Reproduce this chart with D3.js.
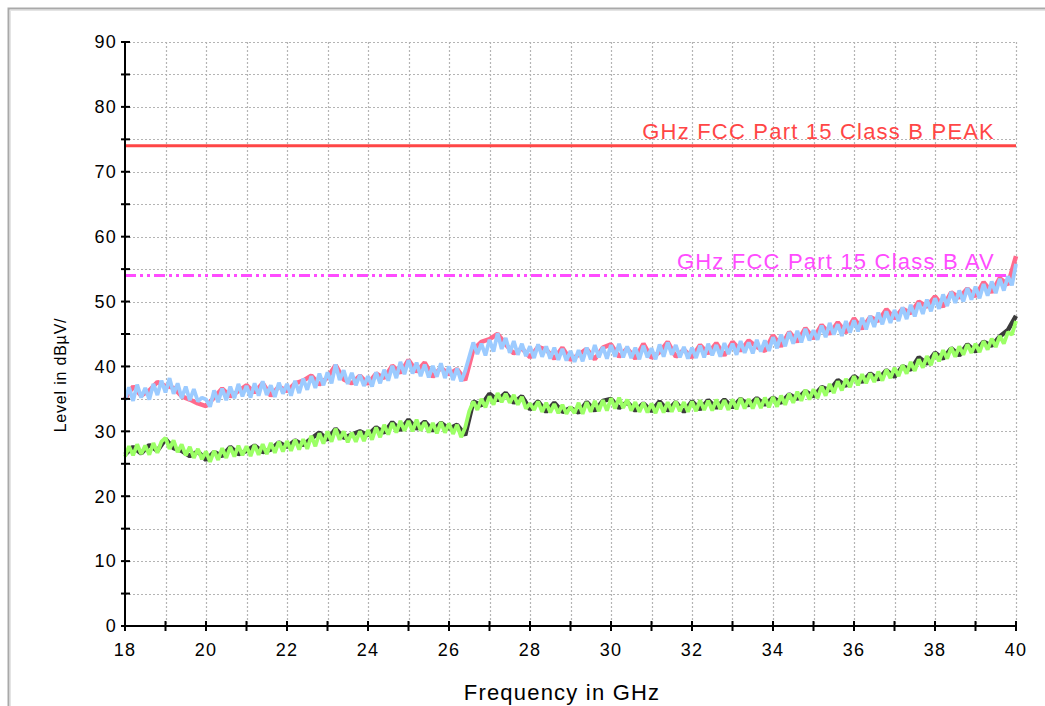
<!DOCTYPE html>
<html>
<head>
<meta charset="utf-8">
<script src="https://cdn.jsdelivr.net/npm/d3@7"></script>
<style>
  html, body { margin: 0; padding: 0; background: #fff; }
  svg { display: block; }
  text { font-family: "Liberation Sans", Arial, sans-serif; }
</style>
</head>
<body>
<svg id="chart" width="1045" height="706"></svg>
<script>
// Sweep: 18–40 GHz
const fStart = 18, fStop = 40;
const xTicks = [18, 20, 22, 24, 26, 28, 30, 32, 34, 36, 38, 40];
const yTicks = [0, 10, 20, 30, 40, 50, 60, 70, 80, 90];

// Limit lines (dBµV/m)
const limitPeak = 74;
const limitAv = 54;
const limitPeakLabel = "GHz FCC Part 15 Class B PEAK";
const limitAvLabel = "GHz FCC Part 15 Class B AV";

// Peak detector trace, 0.1 GHz steps
const peakTrace = [
  34.8, 36.8, 34.7, 37.2, 35.2, 36.7, 34.9, 37.3, 35.6, 37.8,
  36.0, 38.2, 35.8, 37.4, 35.1, 36.9, 34.8, 36.5, 34.6, 35.2,
  34.9, 33.8, 36.3, 34.5, 36.6, 34.8, 36.9, 35.1, 37.3, 35.4,
  37.0, 35.2, 37.4, 35.5, 37.7, 35.6, 37.1, 35.3, 37.5, 35.8,
  37.3, 35.5, 37.8, 35.9, 38.1, 36.4, 38.5, 36.7, 38.9, 37.1,
  39.1, 37.4, 40.3, 37.9, 39.4, 37.3, 39.0, 37.1, 38.7, 37.0,
  38.5, 36.9, 39.1, 37.4, 39.5, 37.8, 40.1, 38.2, 40.7, 38.8,
  41.0, 38.9, 40.6, 38.5, 40.3, 38.3, 40.1, 38.4, 40.5, 38.2,
  40.0, 37.9, 39.7, 37.7, 39.3, 41.5, 43.7, 41.9, 43.5, 41.7,
  44.1, 42.3, 45.1, 42.7, 44.4, 42.1, 43.9, 41.8, 43.5, 41.6,
  43.1, 41.3, 43.4, 41.5, 43.1, 41.2, 42.9, 41.0, 42.7, 40.9,
  42.4, 40.7, 42.5, 40.8, 42.9, 41.1, 43.3, 41.4, 43.0, 41.2,
  43.3, 41.5, 43.5, 41.4, 43.1, 41.3, 42.9, 41.1, 43.2, 41.4,
  42.8, 41.1, 43.4, 41.5, 43.7, 41.8, 43.3, 41.4, 43.0, 41.2,
  42.9, 41.3, 43.2, 41.4, 43.5, 41.7, 43.3, 41.5, 43.6, 41.9,
  43.5, 41.8, 43.9, 42.1, 43.7, 42.0, 44.1, 42.3, 44.0, 42.4,
  44.5, 42.8, 44.9, 43.1, 45.3, 43.5, 45.5, 43.7, 45.8, 44.0,
  45.6, 44.1, 46.3, 44.5, 46.7, 44.9, 46.5, 44.7, 47.0, 45.2,
  47.1, 45.4, 47.5, 45.7, 47.8, 46.1, 48.3, 46.5, 48.5, 46.7,
  48.7, 47.0, 49.1, 47.3, 49.5, 47.7, 49.8, 48.1, 50.3, 48.5,
  50.5, 48.9, 51.1, 49.3, 51.5, 49.8, 51.7, 50.0, 52.1, 50.3,
  52.3, 50.5, 52.7, 50.9, 53.1, 51.3, 53.5, 51.7, 53.9, 52.5,
  55.8
];

// Peak max-hold trace, 0.2 GHz steps
const peakHold = [
  35.0, 36.9, 35.5, 36.3, 37.6, 37.0, 36.7, 35.4, 34.9, 34.3,
  33.9, 35.2, 36.6, 35.4, 36.2, 37.1, 36.0, 37.4, 35.5, 36.9,
  36.2, 37.4, 37.8, 38.6, 37.2, 38.3, 40.2, 38.0, 37.4, 38.6,
  37.3, 38.9, 38.2, 40.1, 39.0, 41.0, 39.2, 40.6, 38.4, 39.8,
  38.8, 39.6, 37.9, 42.6, 43.8, 44.2, 45.0, 43.4, 42.0, 42.8,
  41.4, 43.0, 42.6, 41.2, 42.9, 41.0, 41.8, 42.7, 41.1, 42.9,
  43.4, 41.5, 42.8, 41.2, 43.5, 41.3, 42.2, 43.8, 41.5, 42.6,
  41.4, 43.3, 42.0, 43.6, 41.7, 43.8, 42.4, 44.0, 43.0, 42.4,
  44.8, 43.1, 45.3, 43.8, 45.9, 44.3, 46.4, 45.0, 46.8, 45.2,
  47.4, 45.8, 47.6, 47.0, 48.8, 47.4, 48.9, 48.2, 50.0, 49.2,
  50.8, 49.2, 51.4, 50.6, 52.0, 50.8, 53.0, 51.4, 53.6, 52.6,
  57.0
];

// Average detector trace, 0.1 GHz steps
const avgTrace = [
  26.1, 27.7, 26.3, 28.0, 26.5, 27.8, 26.4, 28.2, 26.7, 28.4,
  29.0, 27.3, 28.6, 26.8, 28.0, 26.3, 27.6, 25.9, 27.3, 25.7,
  26.9, 25.3, 27.0, 25.6, 27.4, 25.9, 27.6, 26.1, 27.8, 26.3,
  27.7, 26.2, 27.9, 26.4, 28.0, 26.5, 28.2, 26.7, 28.4, 26.9,
  28.5, 27.0, 28.7, 27.2, 28.8, 27.3, 29.3, 27.7, 29.7, 28.1,
  30.0, 28.4, 30.4, 28.7, 30.0, 28.3, 29.8, 28.4, 30.0, 28.5,
  30.2, 28.7, 30.6, 29.1, 31.0, 29.5, 31.3, 29.8, 31.6, 30.1,
  31.6, 30.0, 31.8, 30.1, 31.4, 29.8, 31.3, 29.7, 31.4, 29.8,
  31.2, 29.6, 31.0, 29.1, 30.6, 33.1, 34.6, 33.3, 35.0, 33.7,
  35.4, 34.1, 35.9, 34.5, 35.8, 34.4, 35.6, 34.1, 35.3, 33.5,
  34.3, 33.3, 34.6, 33.0, 34.4, 32.9, 34.2, 32.8, 34.1, 32.7,
  33.8, 32.8, 34.4, 32.7, 34.5, 33.0, 34.7, 33.1, 34.8, 33.2,
  35.1, 33.5, 35.2, 33.6, 34.9, 33.2, 34.5, 33.0, 34.4, 32.9,
  34.3, 32.8, 34.4, 32.9, 34.5, 33.0, 34.6, 33.1, 34.5, 33.0,
  34.6, 33.1, 34.8, 33.3, 34.7, 33.2, 34.9, 33.4, 34.8, 33.3,
  34.9, 33.4, 35.1, 33.5, 35.0, 33.5, 35.1, 33.6, 35.2, 33.7,
  35.3, 33.8, 35.5, 34.1, 35.8, 34.4, 36.1, 34.7, 36.4, 34.9,
  36.5, 35.1, 36.9, 35.5, 37.3, 35.9, 37.7, 36.3, 38.1, 36.8,
  38.5, 37.1, 38.8, 37.4, 38.9, 37.6, 39.2, 37.8, 39.5, 38.2,
  39.8, 38.5, 40.2, 38.9, 40.7, 39.3, 41.1, 39.8, 41.6, 40.2,
  42.1, 40.8, 42.5, 41.2, 42.9, 41.5, 43.1, 41.8, 43.4, 42.1,
  43.5, 42.2, 43.9, 42.6, 44.3, 43.0, 44.7, 43.5, 45.3, 44.9,
  47.0
];

// Average max-hold trace, 0.2 GHz steps
const avgHold = [
  26.4, 27.6, 26.6, 27.9, 27.0, 28.8, 27.4, 27.0, 26.2, 26.9,
  25.6, 26.8, 26.2, 27.6, 26.5, 27.0, 27.8, 26.8, 27.2, 28.3,
  27.6, 28.6, 27.9, 28.9, 29.8, 28.7, 30.4, 29.0, 29.5, 30.0,
  29.4, 30.6, 29.8, 31.4, 30.2, 31.8, 30.4, 31.5, 30.1, 31.3,
  30.4, 31.0, 29.4, 34.6, 34.0, 35.8, 34.8, 35.9, 34.4, 35.4,
  33.4, 34.6, 33.0, 34.4, 33.0, 33.6, 32.9, 34.5, 33.2, 34.7,
  35.0, 33.6, 34.5, 33.2, 34.3, 33.1, 34.6, 33.2, 34.5, 33.0,
  34.6, 33.4, 34.8, 33.6, 34.9, 33.7, 35.0, 34.0, 35.1, 34.1,
  35.2, 34.4, 35.7, 35.0, 36.2, 35.4, 36.8, 36.3, 37.9, 37.0,
  38.5, 37.6, 38.9, 38.0, 39.4, 38.4, 40.0, 39.5, 41.4, 40.4,
  42.1, 41.2, 42.8, 41.7, 43.4, 42.3, 43.8, 43.2, 44.6, 45.6,
  47.8
];

const svg = d3.select("#chart");
const W = 1045, H = 706;
const plot = { left: 125, right: 1016, top: 42, bottom: 626 };

const x = d3.scaleLinear().domain([fStart, fStop]).range([plot.left, plot.right]);
const y = d3.scaleLinear().domain([0, 90]).range([plot.bottom, plot.top]);

// outer frame
svg.append("rect").attr("x", 8.5).attr("y", 8.5).attr("width", W + 10).attr("height", H + 10)
  .attr("fill", "none").attr("stroke", "#a9a9a9").attr("stroke-width", 2);
svg.append("rect").attr("x", 10.5).attr("y", 10.5).attr("width", W + 10).attr("height", H + 10)
  .attr("fill", "none").attr("stroke", "#e4e4e4").attr("stroke-width", 1);

// dotted grid
const grid = svg.append("g").attr("stroke", "#b4b4b4").attr("stroke-width", 1.2)
  .attr("stroke-dasharray", "2,2");
const minorX = d3.range(fStart + 1, fStop + 0.5, 1);
grid.selectAll("line.v").data(minorX).join("line")
  .attr("x1", d => Math.round(x(d)) + 0.5).attr("x2", d => Math.round(x(d)) + 0.5)
  .attr("y1", plot.top).attr("y2", plot.bottom);
const minorY = d3.range(5, 90.5, 5);
grid.selectAll("line.h").data(minorY).join("line")
  .attr("y1", d => Math.round(y(d)) + 0.5).attr("y2", d => Math.round(y(d)) + 0.5)
  .attr("x1", plot.left).attr("x2", plot.right);

// limit lines
svg.append("line").attr("x1", x(fStart)).attr("x2", x(fStop))
  .attr("y1", y(limitPeak)).attr("y2", y(limitPeak))
  .attr("stroke", "#ff4646").attr("stroke-width", 3);
svg.append("line").attr("x1", x(fStart)).attr("x2", x(fStop))
  .attr("y1", y(limitAv)).attr("y2", y(limitAv))
  .attr("stroke", "#ff4cff").attr("stroke-width", 3)
  .attr("stroke-dasharray", "11,4,3,4,3,4");

svg.append("text").attr("x", 995).attr("y", y(limitPeak) - 7)
  .attr("text-anchor", "end").attr("font-size", 22).attr("letter-spacing", 1.2)
  .attr("fill", "#ff4646").text(limitPeakLabel);
svg.append("text").attr("x", 995).attr("y", y(limitAv) - 7)
  .attr("text-anchor", "end").attr("font-size", 22).attr("letter-spacing", 1.2)
  .attr("fill", "#ff4cff").text(limitAvLabel);

// traces
function drawTrace(values, step, color, width) {
  const line = d3.line()
    .x((d, i) => x(fStart + i * step))
    .y(d => y(d));
  svg.append("path").datum(values).attr("d", line)
    .attr("fill", "none").attr("stroke", color).attr("stroke-width", width)
    .attr("stroke-linejoin", "bevel");
}
drawTrace(peakHold, 0.2, "#ff6a8c", 4.5);
drawTrace(peakTrace, 0.1, "#9ccbff", 3.8);
drawTrace(avgHold, 0.2, "#3a3a3a", 4.5);
drawTrace(avgTrace, 0.1, "#9cff66", 3.8);

// axes
const axisG = svg.append("g");
axisG.append("line").attr("x1", plot.left).attr("x2", plot.left)
  .attr("y1", plot.top).attr("y2", plot.bottom + 1).attr("stroke", "#000").attr("stroke-width", 2);
axisG.append("line").attr("x1", plot.left - 1).attr("x2", plot.right + 1)
  .attr("y1", plot.bottom).attr("y2", plot.bottom).attr("stroke", "#000").attr("stroke-width", 2);

// y ticks every 5, crossing the axis
axisG.selectAll("line.yt").data(d3.range(0, 90.5, 5)).join("line")
  .attr("x1", plot.left - 4).attr("x2", plot.left + 5)
  .attr("y1", d => y(d)).attr("y2", d => y(d))
  .attr("stroke", "#000").attr("stroke-width", 2);
// x ticks every 1 GHz
axisG.selectAll("line.xt").data(d3.range(fStart, fStop + 0.5, 1)).join("line")
  .attr("x1", d => x(d)).attr("x2", d => x(d))
  .attr("y1", plot.bottom - 5).attr("y2", plot.bottom + 5)
  .attr("stroke", "#000").attr("stroke-width", 2);

axisG.selectAll("text.yl").data(yTicks).join("text")
  .attr("x", plot.left - 8).attr("y", d => y(d)).attr("dy", "0.35em")
  .attr("text-anchor", "end").attr("font-size", 18).attr("letter-spacing", 1.2)
  .attr("fill", "#000").text(d => d);
axisG.selectAll("text.xl").data(xTicks).join("text")
  .attr("x", d => x(d)).attr("y", 656)
  .attr("text-anchor", "middle").attr("font-size", 18).attr("letter-spacing", 1.2)
  .attr("fill", "#000").text(d => d);

// axis titles
svg.append("text").attr("x", 562).attr("y", 700)
  .attr("text-anchor", "middle").attr("font-size", 22).attr("letter-spacing", 1.2)
  .attr("fill", "#000").text("Frequency in GHz");
svg.append("text").attr("transform", "translate(66,375) rotate(-90)")
  .attr("text-anchor", "middle").attr("font-size", 16).attr("letter-spacing", 0.8)
  .attr("fill", "#000").text("Level in dBµV/");
</script>
</body>
</html>
